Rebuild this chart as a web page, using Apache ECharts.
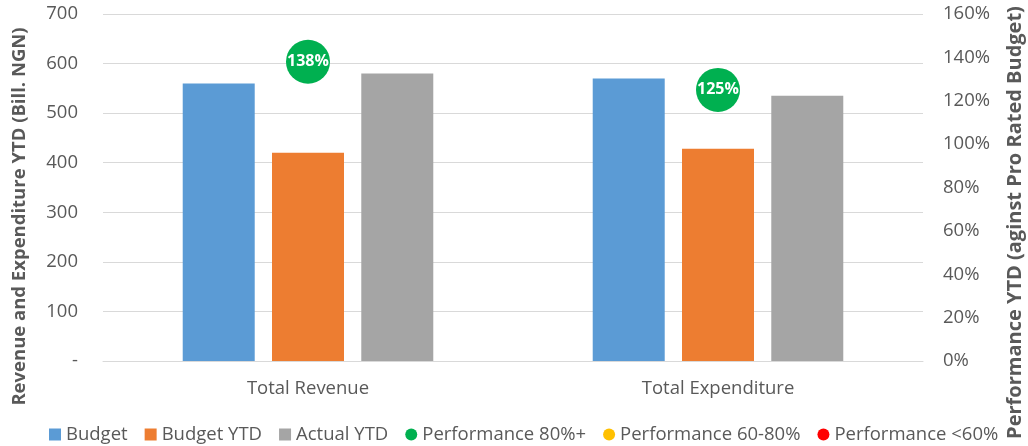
<!DOCTYPE html>
<html>
<head>
<meta charset="utf-8">
<script src="https://cdn.jsdelivr.net/npm/echarts@6/dist/echarts.min.js"></script>
<style>
  html, body { margin: 0; padding: 0; background: #fff; }
  #chart { width: 1028px; height: 446px; }
</style>
</head>
<body>
<div id="chart"></div>
<script>
// categories and values (Bill. NGN)
const categories = ['Total Revenue', 'Total Expenditure']
const budget = [560, 570]
const budgetYtd = [420, 428]
const actualYtd = [580, 535]
// performance YTD against pro rated budget, in %
const performance = [138, 125]

const fontFamily = '"Open Sans", "Noto Sans", sans-serif'
const textColor = '#595959'
const fs = 18.5

// split performance points by band
function band(lo, hi) {
  return performance.map(function (v, i) {
    return (v >= lo && v < hi) ? [categories[i], v] : null
  }).filter(function (d) { return d })
}

const perfLabel = {
  show: true,
  position: 'inside',
  formatter: function (p) { return p.value[1] + '%' },
  color: '#fff',
  fontWeight: 'bold',
  fontSize: 16,
  fontFamily: fontFamily
}

const chart = echarts.init(document.getElementById('chart'))
chart.setOption({
  animation: false,
  textStyle: { fontFamily: fontFamily, color: textColor },
  grid: { left: 103, right: 105, top: 14, bottom: 85, outerBoundsMode: 'none', containLabel: false },
  legend: {
    top: 420,
    left: 44,
    itemWidth: 12,
    itemHeight: 12,
    itemGap: 17,
    textStyle: { fontSize: fs, color: textColor, fontFamily: fontFamily },
    data: [
      { name: 'Budget', icon: 'rect' },
      { name: 'Budget YTD', icon: 'rect' },
      { name: 'Actual YTD', icon: 'rect' },
      { name: 'Performance 80%+', icon: 'circle' },
      { name: 'Performance 60-80%', icon: 'circle' },
      { name: 'Performance <60%', icon: 'circle' }
    ]
  },
  xAxis: {
    type: 'category',
    data: categories,
    axisLine: { lineStyle: { color: '#d9d9d9' } },
    axisTick: { show: false },
    axisLabel: { fontSize: fs, color: textColor, margin: 18 }
  },
  yAxis: [
    {
      type: 'value',
      min: 0,
      max: 700,
      interval: 100,
      name: 'Revenue and Expenditure YTD (Bill. NGN)',
      nameLocation: 'middle',
      nameGap: 74,
      nameTextStyle: { fontSize: 18.5, fontWeight: 'bold', color: textColor, padding: [0, 58, 0, 0] },
      axisLabel: {
        fontSize: fs,
        color: textColor,
        margin: 25,
        formatter: function (v) { return v === 0 ? '-' : v }
      },
      splitLine: { lineStyle: { color: '#d9d9d9' } }
    },
    {
      type: 'value',
      min: 0,
      max: 160,
      interval: 20,
      name: 'Performance YTD (aginst Pro Rated Budget)',
      nameLocation: 'middle',
      nameGap: 82,
      nameRotate: 90,
      nameTextStyle: { fontSize: 20, fontWeight: 'bold', color: textColor, padding: [0, 70, 0, 0] },
      axisLabel: {
        fontSize: fs,
        color: textColor,
        margin: 20,
        formatter: '{value}%'
      },
      splitLine: { show: false }
    }
  ],
  series: [
    {
      name: 'Budget',
      type: 'bar',
      data: budget,
      barWidth: 72,
      barGap: '24%',
      itemStyle: { color: '#5b9bd5' }
    },
    {
      name: 'Budget YTD',
      type: 'bar',
      data: budgetYtd,
      barWidth: 72,
      itemStyle: { color: '#ed7d31' }
    },
    {
      name: 'Actual YTD',
      type: 'bar',
      data: actualYtd,
      barWidth: 72,
      itemStyle: { color: '#a5a5a5' }
    },
    {
      name: 'Performance 80%+',
      type: 'scatter',
      yAxisIndex: 1,
      symbolSize: 44,
      data: band(80, Infinity),
      itemStyle: { color: '#00b050', opacity: 1 },
      label: perfLabel,
      z: 5
    },
    {
      name: 'Performance 60-80%',
      type: 'scatter',
      yAxisIndex: 1,
      symbolSize: 44,
      data: band(60, 80),
      itemStyle: { color: '#ffc000', opacity: 1 },
      label: perfLabel,
      z: 5
    },
    {
      name: 'Performance <60%',
      type: 'scatter',
      yAxisIndex: 1,
      symbolSize: 44,
      data: band(-Infinity, 60),
      itemStyle: { color: '#ff0000', opacity: 1 },
      label: perfLabel,
      z: 5
    }
  ]
})
</script>
</body>
</html>
